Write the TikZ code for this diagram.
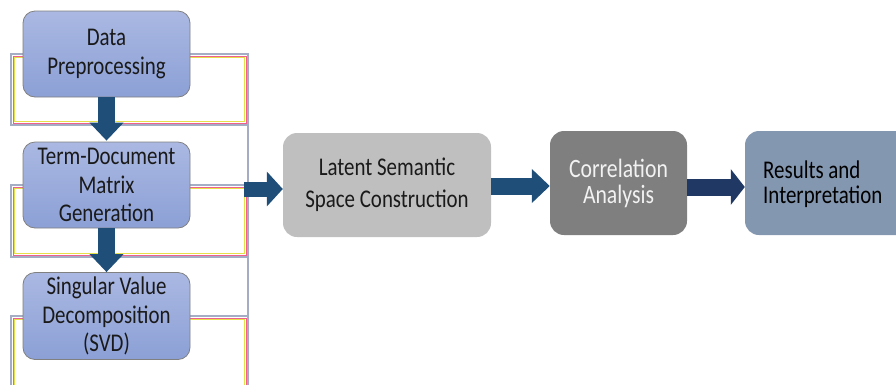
\documentclass[tikz,border=0pt]{standalone}
\usepackage{fontspec}
\setmainfont{Carlito}[FakeStretch=0.82]
\usetikzlibrary{arrows.meta}
\definecolor{arrblue}{HTML}{1F4E79}
\definecolor{arrnavy}{HTML}{1F3864}
\definecolor{frameout}{HTML}{A4ADC4}
\definecolor{fringeA}{HTML}{F0608E}
\definecolor{fringeB}{HTML}{E6E04A}
\definecolor{boxtop}{HTML}{AAB8E2}
\definecolor{boxbot}{HTML}{8CA0D6}
\definecolor{latentfill}{HTML}{BFBFBF}
\definecolor{corrfill}{HTML}{7F7F7F}
\definecolor{resfill}{HTML}{8497B0}
\definecolor{txtdark}{HTML}{1A1A1A}
\tikzset{
  leftbox/.style={rounded corners=12pt, draw=black!50, line width=0.8pt,
    top color=boxtop, bottom color=boxbot, minimum width=167pt,
    inner sep=0pt, align=center, text=txtdark,
    font=\fontsize{25.5}{28.5}\selectfont},
  flowbox/.style={rounded corners=14pt, inner sep=0pt, align=center,
    minimum height=104pt},
  vblock/.style={arrblue, line width=17pt, -{Triangle[length=18pt,width=33pt]}},
  hblock/.style={arrblue, line width=15pt, -{Triangle[length=16pt,width=34pt]}},
  nblock/.style={arrnavy, line width=17pt, -{Triangle[length=14pt,width=35pt]}},
  frameout/.style={draw=frameout, line width=1.3pt},
  fringe1/.style={draw=fringeA, line width=0.7pt},
  fringe2/.style={draw=fringeB, line width=0.7pt}
}
\begin{document}
\begin{tikzpicture}[x=1pt,y=-1pt]
\useasboundingbox (0,0) rectangle (896,384);
% background frames behind left column
\foreach \ya/\yb in {54/125, 185/257, 316/392}{
  \draw[fringe2] (14.5,\ya+3.5) rectangle (244.5,\yb-3.5);
  \draw[fringe1] (13,\ya+2) rectangle (246,\yb-2);
  \draw[frameout] (11,\ya) rectangle (248,\yb);
}
\draw[frameout] (248,54) -- (248,384);
% left column
\node[leftbox, minimum height=86pt] (dp) at (106.5,54) {Data\\Preprocessing};
\node[leftbox, minimum height=86pt] (tdm) at (106.5,185) {Term-Document\\Matrix\\Generation};
\node[leftbox, minimum height=87pt] (svd) at (106.5,316) {Singular Value\\Decomposition\\(SVD)};
% main row
\node[flowbox, fill=latentfill, minimum width=208pt, text=txtdark,
  font=\fontsize{25.5}{32}\selectfont] (lsc) at (387,185) {Latent Semantic\\Space Construction};
\node[flowbox, fill=corrfill, minimum width=137pt, text=white!95!black,
  font=\fontsize{26.5}{26}\selectfont] (ca) at (618.5,183) {Correlation\\Analysis};
\node[flowbox, fill=resfill, minimum width=200pt, text=black,
  font=\fontsize{25.5}{25}\selectfont] (ri) at (845,183) {};
\node[anchor=west, align=left, text=black, inner sep=0pt,
  font=\fontsize{25.5}{25}\selectfont] (rit) at (763,184) {Results and\\Interpretation};
% connectors
\coordinate (colout) at (244,189);
\draw[vblock] (dp.south) -- ([yshift=1pt]tdm.north);
\draw[vblock] (tdm.south) -- (svd.north);
\draw[hblock] (colout) -- (colout -| lsc.west);
\draw[vblock] ([yshift=-1pt]lsc.east) -- ([yshift=-3pt]ca.west);
\draw[nblock] ([yshift=-4pt]ca.east) -- ([yshift=-4pt]ri.west);
\end{tikzpicture}
\end{document}
